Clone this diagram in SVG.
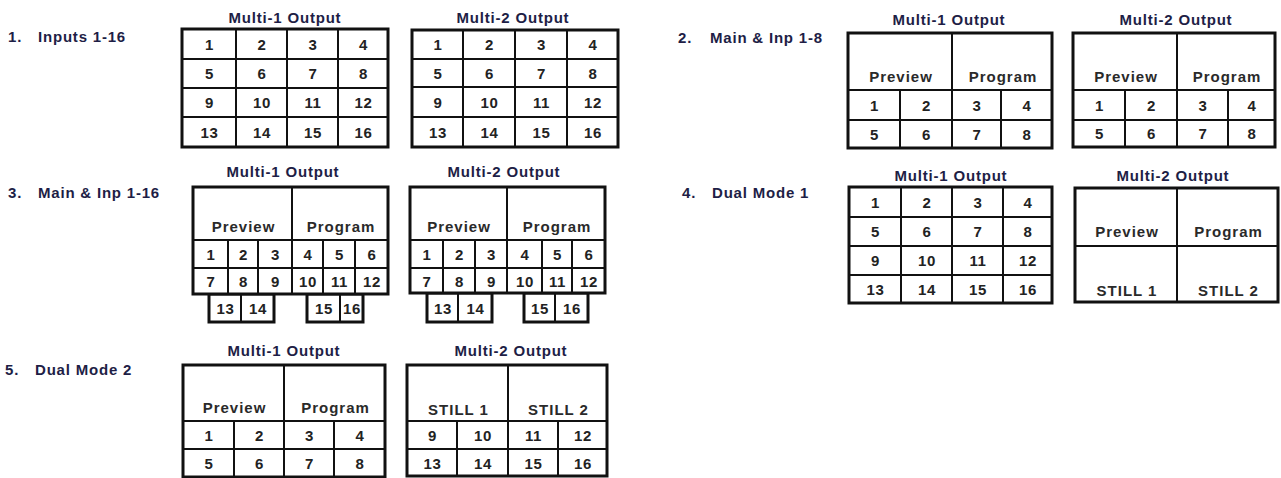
<svg xmlns="http://www.w3.org/2000/svg" width="1281" height="478" viewBox="0 0 1281 478">
<style>
text{font-family:"Liberation Sans",Arial,sans-serif;font-weight:bold;}
.lbl{font-size:15px;fill:#1e1e46;letter-spacing:0.8px;}
.ttl{font-size:15px;fill:#1e1e46;letter-spacing:0.8px;text-anchor:middle;}
.n{font-size:15px;fill:#222;letter-spacing:0.6px;text-anchor:middle;}
.big{font-size:15px;fill:#2a2a2a;letter-spacing:1px;text-anchor:middle;}
.box{fill:#fff;stroke:#111;stroke-width:3;}
.ln{fill:none;stroke:#111;stroke-width:2;}
</style>
<rect width="1281" height="478" fill="#fff"/>

<g id="section-labels">
<text class="lbl" x="8" y="42">1.<tspan x="38">Inputs 1-16</tspan></text>
<text class="lbl" x="678" y="43">2.<tspan x="710">Main &amp; Inp 1-8</tspan></text>
<text class="lbl" x="8" y="198">3.<tspan x="38">Main &amp; Inp 1-16</tspan></text>
<text class="lbl" x="682" y="198">4.<tspan x="712">Dual Mode 1</tspan></text>
<text class="lbl" x="5" y="375">5.<tspan x="35">Dual Mode 2</tspan></text>
</g>

<!-- Section 1 -->
<g id="s1-multi1">
<text class="ttl" x="285" y="23">Multi-1 Output</text>
<rect class="box" x="182" y="29" width="206" height="118"/>
<path class="ln" d="M236 29V147M287 29V147M338 29V147M182 59H388M182 88H388M182 117H388"/>
<text class="n" x="209.5" y="49.5">1</text><text class="n" x="262" y="49.5">2</text><text class="n" x="313" y="49.5">3</text><text class="n" x="363.5" y="49.5">4</text>
<text class="n" x="209.5" y="79">5</text><text class="n" x="262" y="79">6</text><text class="n" x="313" y="79">7</text><text class="n" x="363.5" y="79">8</text>
<text class="n" x="209.5" y="108">9</text><text class="n" x="262" y="108">10</text><text class="n" x="313" y="108">11</text><text class="n" x="363.5" y="108">12</text>
<text class="n" x="209.5" y="137.5">13</text><text class="n" x="262" y="137.5">14</text><text class="n" x="313" y="137.5">15</text><text class="n" x="363.5" y="137.5">16</text>
</g>

<g id="s1-multi2">
<text class="ttl" x="513" y="23">Multi-2 Output</text>
<rect class="box" x="412" y="30" width="206" height="117"/>
<path class="ln" d="M463 30V147M515 30V147M567 30V147M412 59H618M412 87H618M412 117H618"/>
<text class="n" x="438" y="49.5">1</text><text class="n" x="489.5" y="49.5">2</text><text class="n" x="541.5" y="49.5">3</text><text class="n" x="593" y="49.5">4</text>
<text class="n" x="438" y="78.5">5</text><text class="n" x="489.5" y="78.5">6</text><text class="n" x="541.5" y="78.5">7</text><text class="n" x="593" y="78.5">8</text>
<text class="n" x="438" y="107.5">9</text><text class="n" x="489.5" y="107.5">10</text><text class="n" x="541.5" y="107.5">11</text><text class="n" x="593" y="107.5">12</text>
<text class="n" x="438" y="137.5">13</text><text class="n" x="489.5" y="137.5">14</text><text class="n" x="541.5" y="137.5">15</text><text class="n" x="593" y="137.5">16</text>
</g>

<!-- Section 2 -->
<g id="s2-multi1">
<text class="ttl" x="949" y="25">Multi-1 Output</text>
<rect class="box" x="848" y="33" width="204" height="115"/>
<path class="ln" d="M952 33V148M900 90V148M1001 90V148M848 90H1052M848 120H1052"/>
<text class="big" x="901" y="82">Preview</text><text class="big" x="1003" y="82">Program</text>
<text class="n" x="874.5" y="110.5">1</text><text class="n" x="926.5" y="110.5">2</text><text class="n" x="977" y="110.5">3</text><text class="n" x="1027" y="110.5">4</text>
<text class="n" x="874.5" y="139.5">5</text><text class="n" x="926.5" y="139.5">6</text><text class="n" x="977" y="139.5">7</text><text class="n" x="1027" y="139.5">8</text>
</g>

<g id="s2-multi2">
<text class="ttl" x="1176" y="25">Multi-2 Output</text>
<rect class="box" x="1073" y="33" width="202" height="114"/>
<path class="ln" d="M1177 33V147M1125 90V147M1228 90V147M1073 90H1275M1073 120H1275"/>
<text class="big" x="1126" y="82">Preview</text><text class="big" x="1227" y="82">Program</text>
<text class="n" x="1099.5" y="110.5">1</text><text class="n" x="1151.5" y="110.5">2</text><text class="n" x="1203" y="110.5">3</text><text class="n" x="1252" y="110.5">4</text>
<text class="n" x="1099.5" y="139">5</text><text class="n" x="1151.5" y="139">6</text><text class="n" x="1203" y="139">7</text><text class="n" x="1252" y="139">8</text>
</g>

<!-- Section 3 -->
<g id="s3-multi1">
<text class="ttl" x="283" y="177">Multi-1 Output</text>
<rect class="box" x="209" y="294" width="65" height="28"/>
<rect class="box" x="307" y="294" width="56" height="28"/>
<rect class="box" x="193" y="187" width="195" height="107"/>
<path class="ln" d="M292 187V294M228 240V294M258 240V294M323 240V294M355 240V294M193 240H388M193 268H388M241 294V322M340 294V322"/>
<text class="big" x="243.5" y="232">Preview</text><text class="big" x="341" y="232">Program</text>
<text class="n" x="211" y="259.5">1</text><text class="n" x="243.5" y="259.5">2</text><text class="n" x="275.5" y="259.5">3</text><text class="n" x="308" y="259.5">4</text><text class="n" x="339.5" y="259.5">5</text><text class="n" x="372" y="259.5">6</text>
<text class="n" x="211" y="286.5">7</text><text class="n" x="243.5" y="286.5">8</text><text class="n" x="275.5" y="286.5">9</text><text class="n" x="308" y="286.5">10</text><text class="n" x="339.5" y="286.5">11</text><text class="n" x="372" y="286.5">12</text>
<text class="n" x="225.5" y="313.5">13</text><text class="n" x="258" y="313.5">14</text><text class="n" x="324" y="313.5">15</text><text class="n" x="352" y="313.5">16</text>
</g>

<g id="s3-multi2">
<text class="ttl" x="504" y="177">Multi-2 Output</text>
<rect class="box" x="427" y="293" width="65" height="29"/>
<rect class="box" x="524" y="293" width="64" height="29"/>
<rect class="box" x="410" y="187" width="195" height="106"/>
<path class="ln" d="M507 187V293M443 240V293M475 240V293M542 240V293M572 240V293M410 240H605M410 268H605M458 293V322M555 293V322"/>
<text class="big" x="459" y="232">Preview</text><text class="big" x="557" y="232">Program</text>
<text class="n" x="427" y="259.5">1</text><text class="n" x="459.5" y="259.5">2</text><text class="n" x="491.5" y="259.5">3</text><text class="n" x="525" y="259.5">4</text><text class="n" x="557.5" y="259.5">5</text><text class="n" x="589" y="259.5">6</text>
<text class="n" x="427" y="286.5">7</text><text class="n" x="459.5" y="286.5">8</text><text class="n" x="491.5" y="286.5">9</text><text class="n" x="525" y="286.5">10</text><text class="n" x="557.5" y="286.5">11</text><text class="n" x="589" y="286.5">12</text>
<text class="n" x="443" y="313.5">13</text><text class="n" x="475.5" y="313.5">14</text><text class="n" x="540" y="313.5">15</text><text class="n" x="572" y="313.5">16</text>
</g>

<!-- Section 4 -->
<g id="s4-multi1">
<text class="ttl" x="951" y="181">Multi-1 Output</text>
<rect class="box" x="849" y="187" width="203" height="116"/>
<path class="ln" d="M901 187V303M952 187V303M1003 187V303M849 217H1052M849 246H1052M849 275H1052"/>
<text class="n" x="875.5" y="207.5">1</text><text class="n" x="927" y="207.5">2</text><text class="n" x="978" y="207.5">3</text><text class="n" x="1028" y="207.5">4</text>
<text class="n" x="875.5" y="237">5</text><text class="n" x="927" y="237">6</text><text class="n" x="978" y="237">7</text><text class="n" x="1028" y="237">8</text>
<text class="n" x="875.5" y="266">9</text><text class="n" x="927" y="266">10</text><text class="n" x="978" y="266">11</text><text class="n" x="1028" y="266">12</text>
<text class="n" x="875.5" y="294.5">13</text><text class="n" x="927" y="294.5">14</text><text class="n" x="978" y="294.5">15</text><text class="n" x="1028" y="294.5">16</text>
</g>

<g id="s4-multi2">
<text class="ttl" x="1173" y="181">Multi-2 Output</text>
<rect class="box" x="1075" y="188" width="203" height="114"/>
<path class="ln" d="M1177 188V302M1075 246H1278"/>
<text class="big" x="1127" y="237">Preview</text><text class="big" x="1228.5" y="237">Program</text>
<text class="big" x="1127" y="296">STILL 1</text><text class="big" x="1228.5" y="296">STILL 2</text>
</g>

<!-- Section 5 -->
<g id="s5-multi1">
<text class="ttl" x="284" y="356">Multi-1 Output</text>
<rect class="box" x="183" y="365" width="202" height="112"/>
<path class="ln" d="M284 365V477M234 421V477M334 421V477M183 421H385M183 449H385"/>
<text class="big" x="234.5" y="413">Preview</text><text class="big" x="335.5" y="413">Program</text>
<text class="n" x="209" y="440.5">1</text><text class="n" x="259.5" y="440.5">2</text><text class="n" x="309.5" y="440.5">3</text><text class="n" x="360" y="440.5">4</text>
<text class="n" x="209" y="469">5</text><text class="n" x="259.5" y="469">6</text><text class="n" x="309.5" y="469">7</text><text class="n" x="360" y="469">8</text>
</g>

<g id="s5-multi2">
<text class="ttl" x="511" y="356">Multi-2 Output</text>
<rect class="box" x="407" y="365" width="200" height="111"/>
<path class="ln" d="M508 365V476M457 421V476M558 421V476M407 421H607M407 449H607"/>
<text class="big" x="458.5" y="415">STILL 1</text><text class="big" x="558.5" y="415">STILL 2</text>
<text class="n" x="432.5" y="440.5">9</text><text class="n" x="483" y="440.5">10</text><text class="n" x="533.5" y="440.5">11</text><text class="n" x="583" y="440.5">12</text>
<text class="n" x="432.5" y="469">13</text><text class="n" x="483" y="469">14</text><text class="n" x="533.5" y="469">15</text><text class="n" x="583" y="469">16</text>
</g>
</svg>
